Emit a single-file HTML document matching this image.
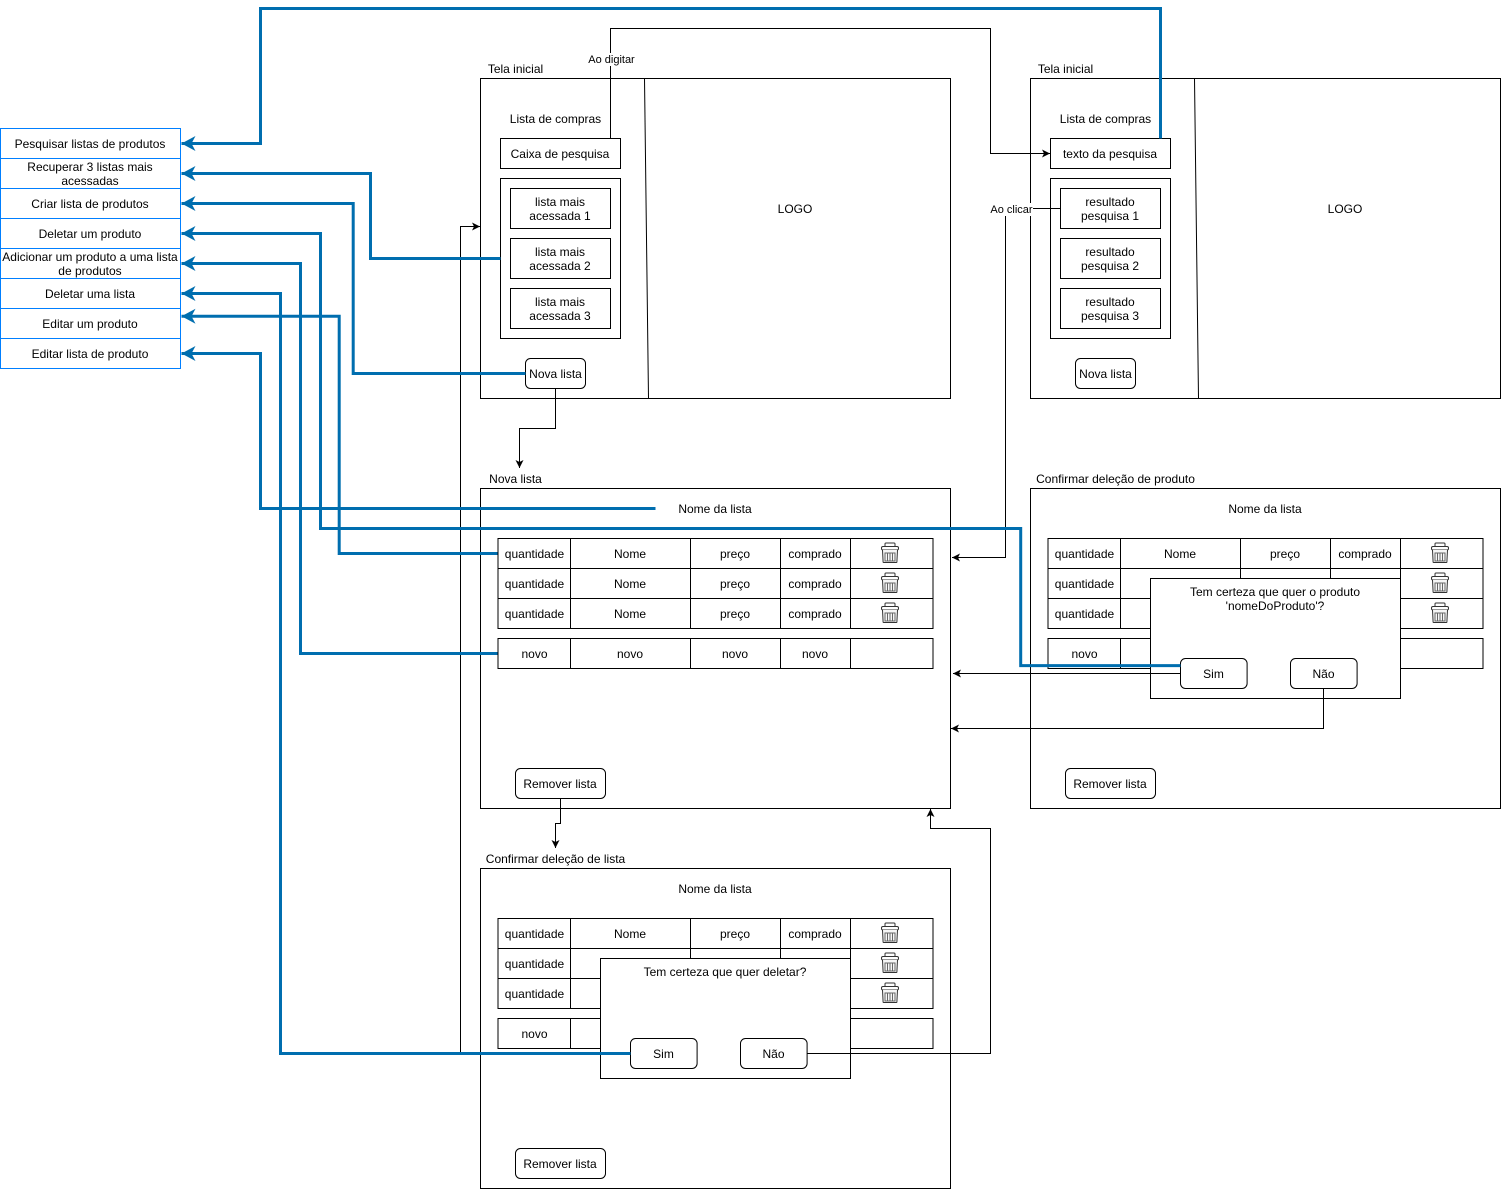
<!DOCTYPE html>
<html lang="pt">
<head>
<meta charset="utf-8">
<title>Diagrama</title>
<style>
html,body{margin:0;padding:0;background:#fff}
svg{display:block}
text{font-family:"Liberation Sans",Helvetica,Arial,sans-serif;font-size:12px;fill:#000;text-anchor:middle}
.b{fill:#fff;stroke:#000;stroke-width:1}
.n{fill:none;stroke:#000;stroke-width:1}
.l{fill:none;stroke:#006EAF;stroke-width:3}
.f{fill:#fff;stroke:#007FFF;stroke-width:1}
</style>
</head>
<body>
<svg xmlns="http://www.w3.org/2000/svg" width="1501" height="1189" viewBox="0 0 1501 1189">
<defs>
<g id="t" fill="none" stroke="#333" stroke-width="1">
<path d="M-5-6.500V-9q0-1 1-1h8q1 0 1 1v2.500"/>
<rect x="-8.500" y="-6.500" width="17" height="3.500" rx="1.500" fill="#fff"/>
<path d="M-7.500-3l.6 12q0 .5 1 .5h11.800q1 0 1-.5l.6-12" fill="#f6f6f6"/>
<path d="M-5 0v8h10v-8zM-2.500 0v8M0 0v8M2.500 0v8" stroke="#666"/>
</g>
<marker id="a" markerUnits="userSpaceOnUse" markerWidth="9" markerHeight="10" refX="8" refY="4.500" orient="auto"><path d="M0 .5L8 4.500 0 8.500 2 4.500z" fill="#000"/></marker>
<marker id="c" markerUnits="userSpaceOnUse" markerWidth="16" markerHeight="16" refX="14" refY="8" orient="auto"><path d="M0 .5L14 8 0 15.500 4 8z" fill="#006EAF"/></marker>
</defs>

<!-- Tela inicial 1 -->
<rect class="b" x="480.500" y="78.500" width="470" height="320"/>
<path class="n" d="M644.500 78.500L648.500 398.500"/>
<text x="515.500" y="73">Tela inicial</text>
<text x="555.500" y="123">Lista de compras</text>
<rect class="b" x="500.500" y="138.500" width="120" height="30"/>
<text x="560" y="158">Caixa de pesquisa</text>
<rect class="b" x="500.500" y="178.500" width="120" height="160"/>
<rect class="b" x="510.500" y="188.500" width="100" height="40"/>
<text x="560" y="206">lista mais</text><text x="560" y="220">acessada 1</text>
<rect class="b" x="510.500" y="238.500" width="100" height="40"/>
<text x="560" y="256">lista mais</text><text x="560" y="270">acessada 2</text>
<rect class="b" x="510.500" y="288.500" width="100" height="40"/>
<text x="560" y="306">lista mais</text><text x="560" y="320">acessada 3</text>
<rect class="b" x="525.500" y="358.500" width="60" height="30" rx="5"/>
<text x="555.500" y="378">Nova lista</text>
<text x="795" y="213">LOGO</text>

<!-- Tela inicial 2 -->
<rect class="b" x="1030.500" y="78.500" width="470" height="320"/>
<path class="n" d="M1194.500 78.500L1198.500 398.500"/>
<text x="1065.500" y="73">Tela inicial</text>
<text x="1105.500" y="123">Lista de compras</text>
<rect class="b" x="1050.500" y="138.500" width="120" height="30"/>
<text x="1110" y="158">texto da pesquisa</text>
<rect class="b" x="1050.500" y="178.500" width="120" height="160"/>
<rect class="b" x="1060.500" y="188.500" width="100" height="40"/>
<text x="1110" y="206">resultado</text><text x="1110" y="220">pesquisa 1</text>
<rect class="b" x="1060.500" y="238.500" width="100" height="40"/>
<text x="1110" y="256">resultado</text><text x="1110" y="270">pesquisa 2</text>
<rect class="b" x="1060.500" y="288.500" width="100" height="40"/>
<text x="1110" y="306">resultado</text><text x="1110" y="320">pesquisa 3</text>
<rect class="b" x="1075.500" y="358.500" width="60" height="30" rx="5"/>
<text x="1105.500" y="378">Nova lista</text>
<text x="1345" y="213">LOGO</text>

<!-- Nova lista -->
<rect class="b" x="480.500" y="488.500" width="470" height="320"/>
<text x="515.500" y="483">Nova lista</text>
<text x="715" y="513">Nome da lista</text>
<path class="n" d="M498 538.500H933V628.500H498ZM498 568.500H933M498 598.500H933M570.500 538.500V628.500M690.500 538.500V628.500M780.500 538.500V628.500M850.500 538.500V628.500M498 638.500H933V668.500H498ZM570.500 638.500V668.500M690.500 638.500V668.500M780.500 638.500V668.500M850.500 638.500V668.500"/>
<text x="534.500" y="558">quantidade</text><text x="630" y="558">Nome</text><text x="735" y="558">preço</text><text x="815" y="558">comprado</text>
<text x="534.500" y="588">quantidade</text><text x="630" y="588">Nome</text><text x="735" y="588">preço</text><text x="815" y="588">comprado</text>
<text x="534.500" y="618">quantidade</text><text x="630" y="618">Nome</text><text x="735" y="618">preço</text><text x="815" y="618">comprado</text>
<text x="534.500" y="658">novo</text><text x="630" y="658">novo</text><text x="735" y="658">novo</text><text x="815" y="658">novo</text>
<use href="#t" x="890" y="553"/><use href="#t" x="890" y="583"/><use href="#t" x="890" y="613"/>
<rect class="b" x="515.500" y="768.500" width="90" height="30" rx="5"/>
<text x="560" y="788">Remover lista</text>

<!-- Confirmar deleção de produto -->
<rect class="b" x="1030.500" y="488.500" width="470" height="320"/>
<text x="1115.500" y="483">Confirmar deleção de produto</text>
<text x="1265" y="513">Nome da lista</text>
<path class="n" d="M1048 538.500H1483V628.500H1048ZM1048 568.500H1483M1048 598.500H1483M1120.500 538.500V628.500M1240.500 538.500V628.500M1330.500 538.500V628.500M1400.500 538.500V628.500M1048 638.500H1483V668.500H1048ZM1120.500 638.500V668.500M1400.500 638.500V668.500"/>
<text x="1084.500" y="558">quantidade</text><text x="1180" y="558">Nome</text><text x="1285" y="558">preço</text><text x="1365" y="558">comprado</text>
<text x="1084.500" y="588">quantidade</text><text x="1084.500" y="618">quantidade</text><text x="1084.500" y="658">novo</text>
<use href="#t" x="1440" y="553"/><use href="#t" x="1440" y="583"/><use href="#t" x="1440" y="613"/>
<rect class="b" x="1065.500" y="768.500" width="90" height="30" rx="5"/>
<text x="1110" y="788">Remover lista</text>
<rect class="b" x="1150.500" y="578.500" width="250" height="120"/>
<text x="1275" y="596">Tem certeza que quer o produto</text>
<text x="1275" y="610">'nomeDoProduto'?</text>

<!-- Confirmar deleção de lista -->
<rect class="b" x="480.500" y="868.500" width="470" height="320"/>
<text x="555.500" y="863">Confirmar deleção de lista</text>
<text x="715" y="893">Nome da lista</text>
<path class="n" d="M498 918.500H933V1008.500H498ZM498 948.500H933M498 978.500H933M570.500 918.500V1008.500M690.500 918.500V1008.500M780.500 918.500V1008.500M850.500 918.500V1008.500M498 1018.500H933V1048.500H498ZM570.500 1018.500V1048.500"/>
<text x="534.500" y="938">quantidade</text><text x="630" y="938">Nome</text><text x="735" y="938">preço</text><text x="815" y="938">comprado</text>
<text x="534.500" y="968">quantidade</text><text x="534.500" y="998">quantidade</text><text x="534.500" y="1038">novo</text>
<use href="#t" x="890" y="933"/><use href="#t" x="890" y="963"/><use href="#t" x="890" y="993"/>
<rect class="b" x="515.500" y="1148.500" width="90" height="30" rx="5"/>
<text x="560" y="1168">Remover lista</text>
<rect class="b" x="600.500" y="958.500" width="250" height="120"/>
<text x="725" y="976">Tem certeza que quer deletar?</text>

<!-- Conectores pretos -->
<path class="n" d="M610.500 138.500V28.500H990.500V153.500H1050" marker-end="url(#a)"/>
<path class="n" d="M1060.500 208.500H1005.500V557.500H952" marker-end="url(#a)"/>
<path class="n" d="M555.500 388.500V428.500H519.500V468" marker-end="url(#a)"/>
<path class="n" d="M560.500 798.500V823.500H555.500V848" marker-end="url(#a)"/>
<path class="n" d="M1180.500 673.500H953" marker-end="url(#a)"/>
<path class="n" d="M1323.500 688.500V728.500H951" marker-end="url(#a)"/>
<path class="n" d="M807.500 1053.500H990.500V828.500H930.500V809" marker-end="url(#a)"/>
<path class="n" d="M630.500 1053.500H460.500V226.500H480" marker-end="url(#a)"/>
<rect x="586" y="53" width="51" height="13" fill="#fff"/>
<text x="611.500" y="63" style="font-size:11px">Ao digitar</text>
<rect x="990" y="203" width="43" height="13" fill="#fff"/>
<text x="1011.500" y="213" style="font-size:11px">Ao clicar</text>

<!-- Botões -->
<rect class="b" x="1180.500" y="658.500" width="66.600" height="30" rx="5"/>
<text x="1213.500" y="678">Sim</text>
<rect class="b" x="1290.500" y="658.500" width="66.600" height="30" rx="5"/>
<text x="1323.500" y="678">Não</text>
<rect class="b" x="630.500" y="1038.500" width="66.600" height="30" rx="5"/>
<text x="663.500" y="1058">Sim</text>
<rect class="b" x="740.500" y="1038.500" width="66.600" height="30" rx="5"/>
<text x="773.500" y="1058">Não</text>

<!-- Lista de funções -->
<rect class="f" x="0.500" y="128.500" width="180" height="30"/>
<text x="90" y="148">Pesquisar listas de produtos</text>
<rect class="f" x="0.500" y="158.500" width="180" height="30"/>
<text x="90" y="171">Recuperar 3 listas mais</text><text x="90" y="185">acessadas</text>
<rect class="f" x="0.500" y="188.500" width="180" height="30"/>
<text x="90" y="208">Criar lista de produtos</text>
<rect class="f" x="0.500" y="218.500" width="180" height="30"/>
<text x="90" y="238">Deletar um produto</text>
<rect class="f" x="0.500" y="248.500" width="180" height="30"/>
<text x="90" y="261">Adicionar um produto a uma lista</text><text x="90" y="275">de produtos</text>
<rect class="f" x="0.500" y="278.500" width="180" height="30"/>
<text x="90" y="298">Deletar uma lista</text>
<rect class="f" x="0.500" y="308.500" width="180" height="30"/>
<text x="90" y="328">Editar um produto</text>
<rect class="f" x="0.500" y="338.500" width="180" height="30"/>
<text x="90" y="358">Editar lista de produto</text>

<!-- Conectores azuis -->
<path class="l" d="M1160.500 138.500V8.500H260.500V143.500H181.500" marker-end="url(#c)"/>
<path class="l" d="M500.500 258.500H370.500V173.500H181.500" marker-end="url(#c)"/>
<path class="l" d="M525.500 373.500H353.200V203.500H181.500" marker-end="url(#c)"/>
<path class="l" d="M655.500 508.500H260.500V353.500H181.500" marker-end="url(#c)"/>
<path class="l" d="M1180.500 665.600H1020.700V528.500H320.500V233.500H181.500" marker-end="url(#c)"/>
<path class="l" d="M497.500 553.500H339.200V316.200H181.500" marker-end="url(#c)"/>
<path class="l" d="M497.500 653.500H300.500V263.500H181.500" marker-end="url(#c)"/>
<path class="l" d="M630.500 1053.500H280.500V293.500H181.500" marker-end="url(#c)"/>
</svg>
</body>
</html>
